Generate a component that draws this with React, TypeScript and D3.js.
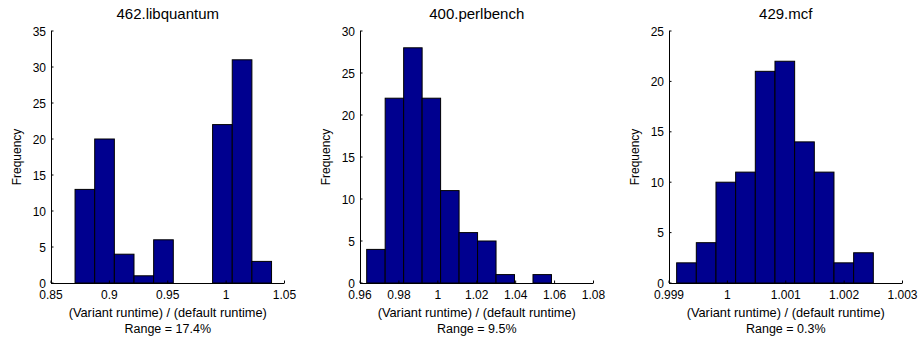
import React from 'react';
import * as d3 from 'd3';

// histogram panels, values
const titles = ['462.libquantum', '400.perlbench', '429.mcf'];
const rangeLabels = ['Range = 17.4%', 'Range = 9.5%', 'Range = 0.3%'];

const libquantumCounts = [13, 20, 4, 1, 6, 0, 0, 22, 31, 3];
const perlbenchCounts = [4, 22, 28, 22, 11, 6, 5, 1, 0, 1];
const mcfCounts = [2, 4, 10, 11, 21, 22, 14, 11, 2, 3];

// first and last bin edge of each histogram
const libquantumBins = [0.8706, 1.0389];
const perlbenchBins = [0.96344, 1.0584];
const mcfBins = [0.999131, 1.0025];

const libquantumXTicks = [0.85, 0.9, 0.95, 1, 1.05];
const perlbenchXTicks = [0.96, 0.98, 1, 1.02, 1.04, 1.06, 1.08];
const mcfXTicks = [0.999, 1, 1.001, 1.002, 1.003];

const libquantumYTicks = [0, 5, 10, 15, 20, 25, 30, 35];
const perlbenchYTicks = [0, 5, 10, 15, 20, 25, 30];
const mcfYTicks = [0, 5, 10, 15, 20, 25];

const panels = [
  { title: titles[0], range: rangeLabels[0], counts: libquantumCounts, bins: libquantumBins, xTicks: libquantumXTicks, yTicks: libquantumYTicks },
  { title: titles[1], range: rangeLabels[1], counts: perlbenchCounts, bins: perlbenchBins, xTicks: perlbenchXTicks, yTicks: perlbenchYTicks },
  { title: titles[2], range: rangeLabels[2], counts: mcfCounts, bins: mcfBins, xTicks: mcfXTicks, yTicks: mcfYTicks },
];

const W = 918, H = 337;
const plotW = 233.5;
const top = 31, bottom = 283;
const lefts = [51, 360, 669];
const font = '"Liberation Sans", Arial, Helvetica, sans-serif';
const barFill = '#00008f';

const Panel = ({ p, left }: { p: typeof panels[0]; left: number }) => {
  const x = d3.scaleLinear()
    .domain([p.xTicks[0], p.xTicks[p.xTicks.length - 1]])
    .range([left, left + plotW]);
  const y = d3.scaleLinear()
    .domain([0, p.yTicks[p.yTicks.length - 1]])
    .range([bottom, top]);
  const bw = (p.bins[1] - p.bins[0]) / p.counts.length;
  const fmt = (v: number) => String(+v.toFixed(4));
  const cx = left + plotW / 2;

  return (
    <g fontFamily={font} fill="#000">
      <text x={cx} y={19} textAnchor="middle" fontSize={15}>{p.title}</text>

      {p.counts.map((c, i) => {
        const x0 = x(p.bins[0] + i * bw);
        const x1 = x(p.bins[0] + (i + 1) * bw);
        return c > 0 ? (
          <rect key={i} x={x0} y={y(c)} width={x1 - x0} height={y(0) - y(c)}
            fill={barFill} stroke="#000" strokeWidth={1} />
        ) : null;
      })}

      {/* axes */}
      <line x1={left} x2={left + plotW} y1={bottom + 0.5} y2={bottom + 0.5} stroke="#000" strokeWidth={1} />
      <line x1={left + 0.5} x2={left + 0.5} y1={top} y2={bottom + 0.5} stroke="#000" strokeWidth={1} />

      {p.xTicks.map(t => (
        <g key={'x' + t}>
          <line x1={x(t)} x2={x(t)} y1={bottom} y2={bottom - 2.5} stroke="#000" strokeWidth={1} />
          <text x={x(t)} y={299} textAnchor="middle" fontSize={12}>{fmt(t)}</text>
        </g>
      ))}
      {p.yTicks.map(t => (
        <g key={'y' + t}>
          <line x1={left} x2={left + 2.5} y1={y(t)} y2={y(t)} stroke="#000" strokeWidth={1} />
          <text x={left - 5} y={y(t) + 4.5} textAnchor="end" fontSize={12}>{t}</text>
        </g>
      ))}

      <text transform={`translate(${left - 30},${(top + bottom) / 2}) rotate(-90)`}
        textAnchor="middle" fontSize={12}>Frequency</text>
      <text x={cx} y={317} textAnchor="middle" fontSize={12.8}>(Variant runtime) / (default runtime)</text>
      <text x={cx} y={332.5} textAnchor="middle" fontSize={12.5}>{p.range}</text>
    </g>
  );
};

export default function App() {
  return (
    <svg width={W} height={H} style={{ position: 'absolute', left: 0, top: 0, background: '#fff' }}>
      <rect width={W} height={H} fill="#fff" />
      {panels.map((p, i) => <Panel key={p.title} p={p} left={lefts[i]} />)}
    </svg>
  );
}
